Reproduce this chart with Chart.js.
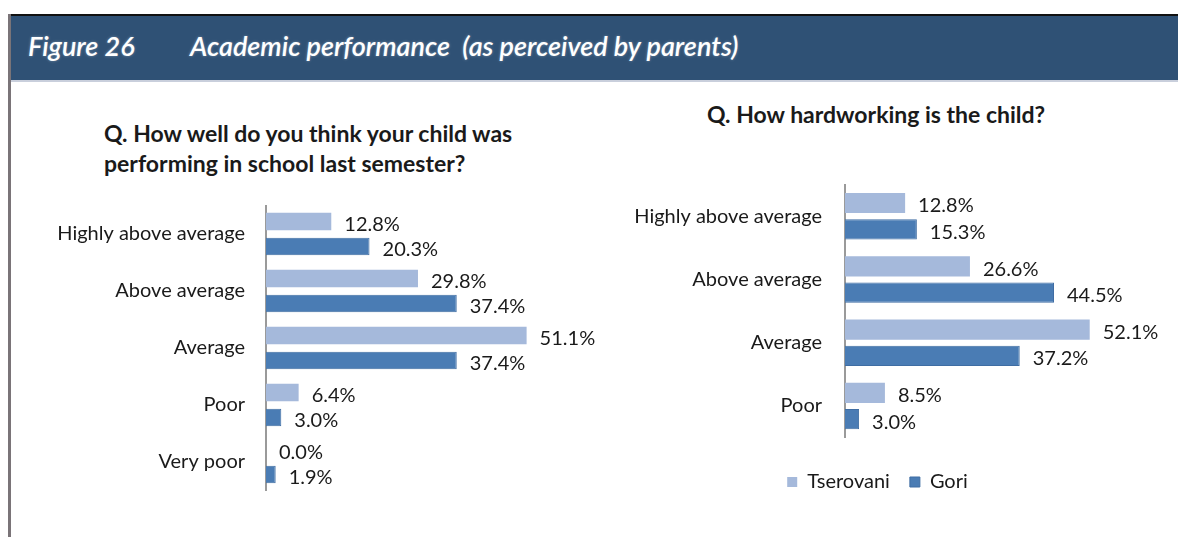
<!DOCTYPE html>
<html>
<head>
<meta charset="utf-8">
<script src="https://cdn.jsdelivr.net/npm/chart.js@4.4.1/dist/chart.umd.min.js"></script>
<style>
  body { margin: 0; background: #fff; width: 1178px; height: 537px; overflow: hidden; position: relative; font-family: Lato, "Open Sans", sans-serif; }
  #frame { position: absolute; left: 8px; top: 14px; width: 3px; height: 523px; background: #7a7478; }
  #header { position: absolute; left: 11px; top: 14px; width: 1167px; height: 64px; background: #2f5175; border-top: 2px solid #111; border-bottom: 2px solid #c9cfdc; color: #fff; font-style: italic; font-size: 27px; font-weight: 600; line-height: 30px; text-shadow: 0 0 3px rgba(255,255,255,0.35); }
  #header span { position: absolute; top: 15px; }
  .q { position: absolute; font-weight: bold; font-size: 23px; color: #1a1a1a; line-height: 30px; }
  .wrap { position: absolute; }
</style>
</head>
<body>
<div id="frame"></div>
<div id="header"><span style="left:17px">Figure 26</span><span style="left:179px">Academic performance&nbsp; (as perceived by parents)</span></div>
<div class="q" style="left:104px; top:118px;">Q. How well do you think your child was<br>performing in school last semester?</div>
<div class="q" style="left:707px; top:99px;">Q. How hardworking is the child?</div>
<div class="wrap" style="left:40px; top:195px; width:600px; height:305px;"><canvas id="left"></canvas></div>
<div class="wrap" style="left:600px; top:174px; width:560px; height:328px;"><canvas id="right"></canvas></div>
<script>
const seriesNames = ['Tserovani', 'Gori'];
const leftCategories = ['Highly above average', 'Above average', 'Average', 'Poor', 'Very poor'];
const leftTserovani = [12.8, 29.8, 51.1, 6.4, 0.0];
const leftGori = [20.3, 37.4, 37.4, 3.0, 1.9];
const rightCategories = ['Highly above average', 'Above average', 'Average', 'Poor'];
const rightTserovani = [12.8, 26.6, 52.1, 8.5];
const rightGori = [15.3, 44.5, 37.2, 3.0];

const lightBlue = '#a5b9db';
const darkBlue = '#4a7cb4';
const fontFamily = 'Lato, "Open Sans", sans-serif';

// value labels at the end of each bar
const valueLabels = {
  id: 'valueLabels',
  afterDatasetsDraw(chart) {
    const ctx = chart.ctx;
    ctx.save();
    ctx.font = '20px ' + fontFamily;
    ctx.fillStyle = '#1a1a1a';
    ctx.textAlign = 'left';
    ctx.textBaseline = 'middle';
    chart.data.datasets.forEach((ds, i) => {
      chart.getDatasetMeta(i).data.forEach((bar, j) => {
        ctx.fillText(ds.data[j].toFixed(1) + '%', bar.x + 13, bar.y + 3);
      });
    });
    ctx.restore();
  }
};

function makeChart(id, labels, a, b, opts) {
  return new Chart(document.getElementById(id), {
    type: 'bar',
    data: {
      labels: labels,
      datasets: [
        { label: seriesNames[0], data: a, backgroundColor: lightBlue, categoryPercentage: opts.cat, barPercentage: opts.bar },
        { label: seriesNames[1], data: b, backgroundColor: darkBlue, borderColor: '#3f6da3', borderWidth: 1, categoryPercentage: opts.cat, barPercentage: opts.bar }
      ]
    },
    options: {
      indexAxis: 'y',
      responsive: true,
      maintainAspectRatio: false,
      animation: false,
      layout: { padding: opts.padding },
      scales: {
        x: { display: false, min: 0, max: opts.max },
        y: {
          grid: { display: false },
          border: { display: true, color: '#9a9a9a', width: 2 },
          ticks: { color: '#1a1a1a', font: { family: fontFamily, size: 20 }, padding: opts.tickPad },
          afterFit(scale) {
            scale.width = opts.axisWidth;
            scale.paddingTop = 0;
            scale.paddingBottom = 0;
          }
        }
      },
      plugins: {
        tooltip: { enabled: false },
        legend: {
          display: opts.legend,
          position: 'bottom',
          title: { display: true, text: ' ', padding: 0, font: { size: 12 } },
          labels: { boxWidth: 10, boxHeight: 10, color: '#1a1a1a', font: { family: fontFamily, size: 20 }, padding: 20 }
        }
      }
    },
    plugins: [valueLabels]
  });
}

makeChart('left', leftCategories, leftTserovani, leftGori, {
  cat: 0.88, bar: 0.7, axisWidth: 226, tickPad: 13, legend: false, max: 60,
  padding: { top: 10.5, bottom: 9.5, left: 0, right: 68 }
});
makeChart('right', rightCategories, rightTserovani, rightGori, {
  cat: 0.83, bar: 0.77, axisWidth: 245, tickPad: 15, legend: true, max: 66,
  padding: { top: 10.5, bottom: 0, left: 0, right: 5 }
});
</script>
</body>
</html>
